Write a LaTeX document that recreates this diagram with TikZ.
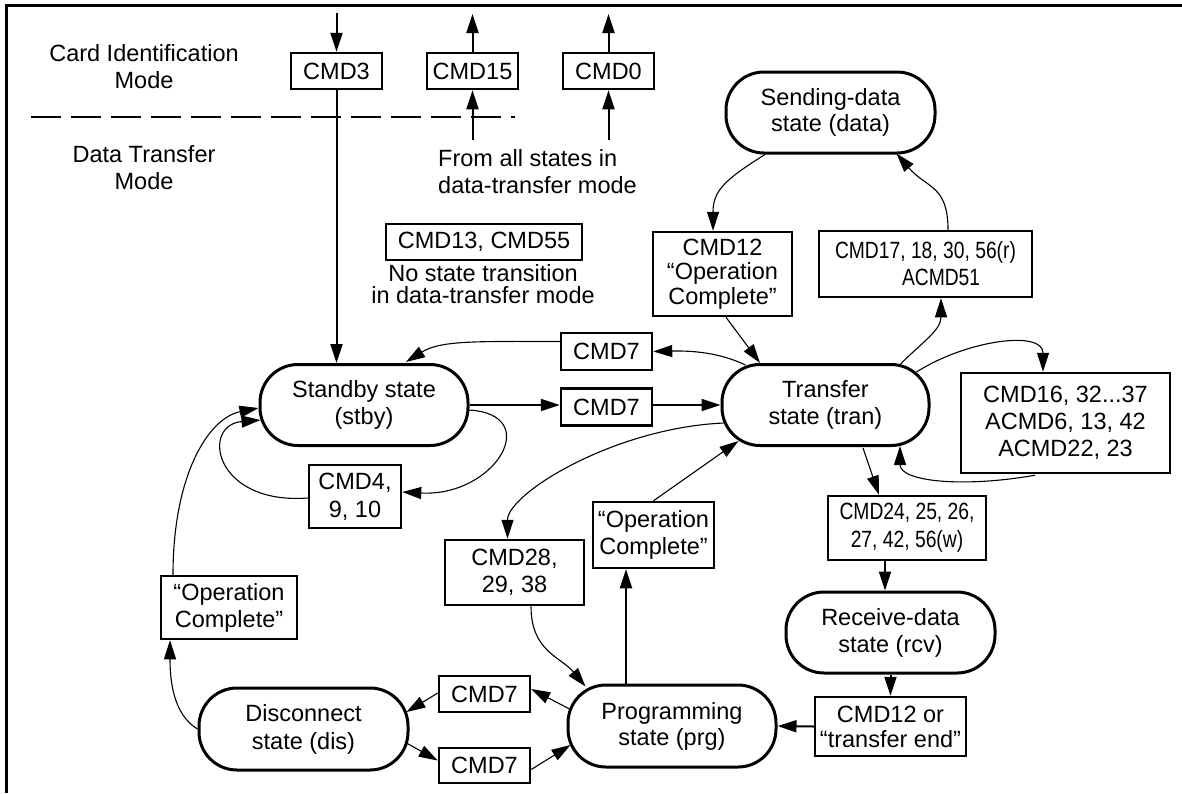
\documentclass[tikz,border=0pt]{standalone}
\usepackage{fontspec}
\setmainfont{Liberation Sans}
\newfontfamily\narrowfont[FakeStretch=0.82]{Liberation Sans}
\usetikzlibrary{arrows.meta,calc}
\begin{document}
\begin{tikzpicture}[x=1pt,y=-1pt,
  txt/.style={font=\fontsize{23.5}{27}\selectfont, inner sep=0pt, align=center},
  nar/.style={font=\narrowfont\fontsize{23.5}{27}\selectfont},
  cbox/.style={txt, draw, line width=2.5pt},
  stnode/.style={txt, draw, line width=3pt, rounded corners=38pt, minimum width=208pt, minimum height=81pt},
  tipped/.style={-{Triangle[length=19pt,width=12pt]}},
  heavy/.style={tipped, line width=2pt},
  light/.style={tipped, line width=1.1pt}]
\useasboundingbox (0,0) rectangle (1182,793);
\fill[white] (0,0) rectangle (1182,793);
% frame
\draw[line width=3pt] (6,793) -- (6,5.5) -- (1182,5.5);
% mode separator
\draw[line width=2.2pt, dash pattern=on 30pt off 10pt] (31,117) -- (515,117);

% text labels
\node[txt] (cim) at (144,67) {Card Identification\\Mode};
\node[txt] (dtm) at (144,168) {Data Transfer\\Mode};
\node[txt, anchor=west, align=left] (from) at (438,172) {From all states in\\data-transfer mode};
\node[txt, font=\fontsize{23.5}{22}\selectfont] (nost) at (483,284) {No state transition\\in data-transfer mode};

% boxes
\node[cbox, minimum width=91pt, minimum height=36pt] (cmd3) at (336.5,71) {CMD3};
\node[cbox, minimum width=91pt, minimum height=36pt] (cmd15) at (472.5,71) {CMD15};
\node[cbox, minimum width=91pt, minimum height=36pt] (cmd0) at (608.5,71) {CMD0};
\node[cbox, minimum width=196pt, minimum height=36pt] (cmd1355) at (484,242) {CMD13, CMD55};
\node[cbox, minimum width=139pt, minimum height=84pt, font=\fontsize{23.5}{24.5}\selectfont] (cmd12) at (722.5,274) {CMD12\\“Operation\\Complete”};
\node[cbox, nar, minimum width=213pt, minimum height=66pt, align=left] (cmd17) at (925.5,264) {CMD17, 18, 30, 56(r)\\\hspace*{67pt}ACMD51};
\node[cbox, minimum width=91pt, minimum height=37pt] (cmd7a) at (606.5,351.5) {CMD7};
\node[cbox, minimum width=91pt, minimum height=37pt] (cmd7b) at (606.5,407) {CMD7};
\node[cbox, minimum width=209pt, minimum height=100pt] (cmd16) at (1065.5,423) {CMD16, 32...37\\ACMD6, 13, 42\\ACMD22, 23};
\node[cbox, minimum width=92pt, minimum height=63pt, font=\fontsize{23.5}{28}\selectfont] (cmd4) at (355,496.5) {CMD4,\\9, 10};
\node[cbox, minimum width=136pt, minimum height=63pt] (opc1) at (229,607.5) {“Operation\\Complete”};
\node[cbox, minimum width=139pt, minimum height=65pt] (cmd28) at (514.5,572.5) {CMD28,\\29, 38};
\node[cbox, minimum width=121pt, minimum height=66pt] (opc2) at (653.5,535) {“Operation\\Complete”};
\node[cbox, nar, minimum width=158pt, minimum height=64pt, font=\narrowfont\fontsize{23.5}{28}\selectfont] (cmd24) at (907,528) {CMD24, 25, 26,\\27, 42, 56(w)};
\node[cbox, minimum width=151pt, minimum height=59pt, font=\fontsize{23.5}{25}\selectfont] (cmd12or) at (890.5,726.5) {CMD12 or\\“transfer end”};
\node[cbox, minimum width=91pt, minimum height=36pt] (cmd7c) at (484.5,694) {CMD7};
\node[cbox, minimum width=91pt, minimum height=35pt] (cmd7d) at (484.5,765.5) {CMD7};

% states
\node[stnode, minimum width=209pt, font=\fontsize{23.5}{26}\selectfont] (data) at (830.5,112.5) {Sending-data\\state (data)};
\node[stnode] (standby) at (364,405) {Standby state\\(stby)};
\node[stnode, minimum width=207pt] (transfer) at (825.5,405) {Transfer\\state (tran)};
\node[stnode, minimum width=209pt] (receive) at (890.5,632.5) {Receive-data\\state (rcv)};
\node[stnode, minimum height=82pt, font=\fontsize{23.5}{26}\selectfont] (programming) at (672,726) {Programming\\state (prg)};
\node[stnode, minimum width=209pt, minimum height=82pt, font=\fontsize{23.5}{28}\selectfont] (disconnect) at (303.5,729) {Disconnect\\state (dis)};

% top arrows
\coordinate (t3) at (336.5,13);
\coordinate (t15) at (472.5,14);
\coordinate (b15) at (472.5,140);
\coordinate (t0) at (608.5,14);
\coordinate (b0) at (608.5,140);
\draw[heavy] (t3) -- (cmd3.north);
\draw[heavy] (cmd3.south) -- (cmd3.south |- standby.north);
\draw[heavy] (cmd15.north) -- (t15);
\draw[heavy] (b15) -- (cmd15.south);
\draw[heavy] (cmd0.north) -- (t0);
\draw[heavy] (b0) -- (cmd0.south);

% sending-data loop
\draw[light] ($(data.south)+(-65.5,0)$) .. controls +(-40,25) and +(0,-40) .. ($(cmd12.north)+(-9.5,0)$);
\draw[light] ($(cmd17.north)+(22.5,0)$) .. controls +(0,-45) and +(30,35) .. ($(data.south)+(66,-1)$);
\draw[light] ($(cmd12.south)+(3.5,0)$) -- ($(transfer.north)+(-65.5,0)$);
\draw[light] ($(transfer.north)+(75,1)$) .. controls +(22,-22) and +(0,32) .. ($(cmd17.south)+(15.5,0)$);

% transfer self loop via cmd16
\draw[light] ($(transfer.east)+(-14,-33)$) .. controls +(50,-32) and +(0,-42) .. ($(cmd16.north)+(-22.5,0)$);
\draw[light] ($(cmd16.south)+(-30.5,1)$) .. controls +(-75,13) and +(0,35) .. ($(transfer.south)+(74.5,-1)$);

% standby <-> transfer
\draw[light] ($(transfer.north)+(-80,2)$) .. controls +(-25,-12) and +(40,-1) .. (cmd7a.east);
\draw[light] ($(cmd7a.west)+(0,-10)$) .. controls +(-80,0) and +(35,-22) .. ($(standby.north)+(42,-1)$);
\draw[heavy] (standby.east) -- ($(cmd7b.west)+(0,-2)$);
\draw[heavy] ($(cmd7b.east)+(0,-2)$) -- (transfer.west);

% standby self loop
\draw[light] ($(standby.east)+(-1,5)$) .. controls +(76,4) and +(93,5) .. ($(cmd4.east)+(0,-4.5)$);
\draw[light] ($(cmd4.west)+(0,1.5)$) .. controls +(-94,7) and +(-60,5) .. ($(standby.west)+(2,15)$);

% transfer -> programming branch
\draw[light] ($(transfer.west)+(3,18)$) .. controls +(-110,5) and +(0,-45) .. ($(cmd28.north)+(-7,0)$);
\draw[light] ($(cmd28.south)+(16.5,0)$) .. controls +(0,45) and +(-25,-30) .. ($(programming.north west)+(19,3)$);
\coordinate (pn) at ($(programming.north)+(-46,0)$);
\draw[heavy] (pn) -- (pn |- opc2.south);
\draw[light] (opc2.north) -- ($(transfer.south)+(-87,-6)$);

% write path
\draw[light] ($(transfer.south)+(37.5,1)$) -- ($(cmd24.north)+(-28,0)$);
\coordinate (c24s) at ($(cmd24.south)+(-22,0)$);
\draw[heavy] (c24s) -- (c24s |- receive.north);
\draw[heavy] (receive.south) -- (cmd12or.north);
\draw[heavy] (cmd12or.west) -- (programming.east);

% programming <-> disconnect
\draw[light] ($(programming.west)+(3,-17)$) -- ($(cmd7c.east)+(0,-5)$);
\draw[light] ($(cmd7c.west)+(0,-1)$) -- ($(disconnect.east)+(-3,-17)$);
\draw[light] ($(disconnect.east)+(-3,14)$) -- ($(cmd7d.west)+(0,-5)$);
\draw[light] ($(cmd7d.east)+(0,4)$) -- ($(programming.west)+(4,19)$);

% disconnect -> standby
\draw[light] (disconnect.west) .. controls +(-25,-15) and +(0,38) .. ($(opc1.south)+(-59,0)$);
\draw[light] ($(opc1.north)+(-56,0)$) .. controls +(0,-100) and +(-50,10) .. ($(standby.west)+(0,3)$);
\end{tikzpicture}
\end{document}
